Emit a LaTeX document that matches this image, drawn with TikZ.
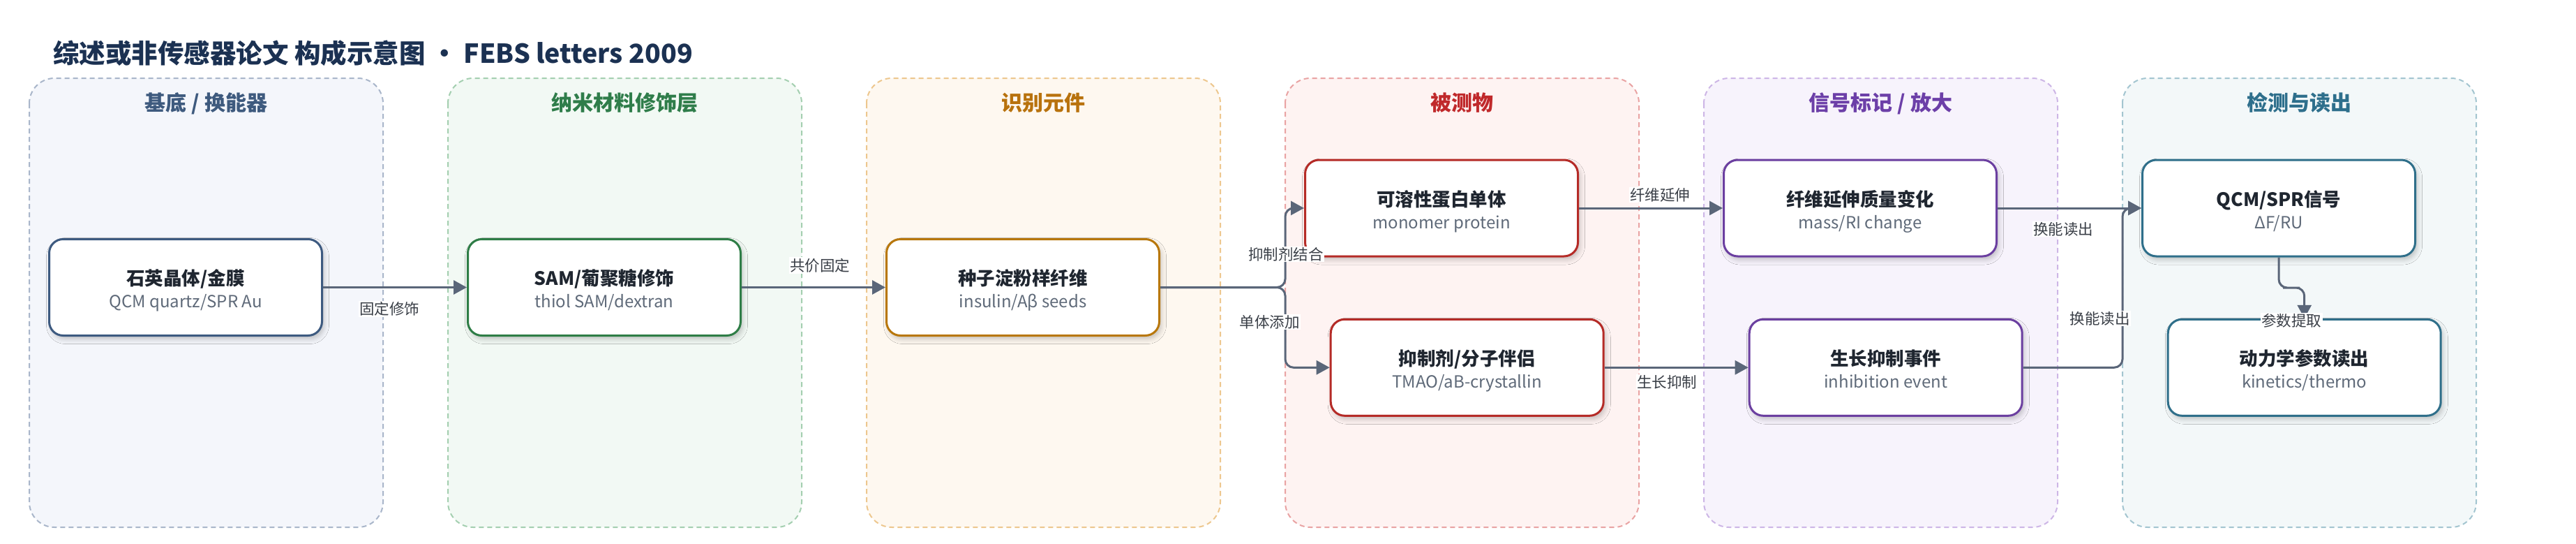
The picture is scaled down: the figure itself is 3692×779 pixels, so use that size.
\documentclass[tikz,border=0pt]{standalone}
\usepackage{fontspec}
\setmainfont{Noto Sans CJK SC}
\usetikzlibrary{arrows.meta,shadows.blur}

\definecolor{titlec}{HTML}{1B3152}
\definecolor{boxtitle}{HTML}{1F2630}
\definecolor{boxsub}{HTML}{5F6A79}
\definecolor{lblc}{HTML}{3A3F47}
\definecolor{edgec}{HTML}{5A6679}
% lanes: fill / border / header / node border
\definecolor{fA}{HTML}{F4F6FB}\definecolor{bA}{HTML}{A9B6CA}\definecolor{hA}{HTML}{3E5A7E}\definecolor{nA}{HTML}{3D5A80}
\definecolor{fB}{HTML}{F2F9F4}\definecolor{bB}{HTML}{A4CFB0}\definecolor{hB}{HTML}{2F7D4A}\definecolor{nB}{HTML}{2E7D46}
\definecolor{fC}{HTML}{FEF8F0}\definecolor{bC}{HTML}{EDC78E}\definecolor{hC}{HTML}{B8720D}\definecolor{nC}{HTML}{B8770B}
\definecolor{fD}{HTML}{FEF3F2}\definecolor{bD}{HTML}{E9A3A3}\definecolor{hD}{HTML}{C0292B}\definecolor{nD}{HTML}{B52B27}
\definecolor{fE}{HTML}{F7F3FC}\definecolor{bE}{HTML}{CDB6E6}\definecolor{hE}{HTML}{6C3FA8}\definecolor{nE}{HTML}{6B3FA0}
\definecolor{fF}{HTML}{F3F8F9}\definecolor{bF}{HTML}{A3C5D0}\definecolor{hF}{HTML}{2E6F8C}\definecolor{nF}{HTML}{2F6F8A}

\newcommand\mkbox[6]{%
  \node[box=#2] (#1) at (#3,#4) {};
  \node[ttl, anchor=base] (#1t) at ([yshift=3pt]#1.center) {#5};
  \node[sub, anchor=base] (#1s) at ([yshift=-29pt]#1.center) {#6};
}

\begin{document}
\begin{tikzpicture}[x=1pt,y=-1pt,
  lanebox/.style={line width=2pt, dash pattern=on 7pt off 5pt, rounded corners=36pt},
  hdr/.style={font=\bfseries\fontsize{30}{34}\selectfont, inner sep=0pt},
  box/.style={draw=#1, line width=3pt, fill=white, rounded corners=20pt,
    minimum width=391pt, minimum height=138pt, inner sep=0pt,
    blur shadow={shadow xshift=3pt, shadow yshift=-5pt, shadow blur radius=7pt, shadow opacity=22}},
  ttl/.style={font=\bfseries\fontsize{26.5}{30}\selectfont, text=boxtitle, inner sep=0pt},
  sub/.style={font=\fontsize{24}{28}\selectfont, text=boxsub, inner sep=0pt},
  lbl/.style={font=\fontsize{21.5}{24}\selectfont, text=lblc, fill=white, inner sep=1.5pt},
  edge/.style={draw=edgec, line width=3pt, rounded corners=12pt, -{Triangle[length=19pt,width=20pt]}},
]
\useasboundingbox (0,0) rectangle (3692,779);

% title
\node[anchor=base west, inner sep=0pt, text=titlec, font=\bfseries\fontsize{37.5}{42}\selectfont]
  (title) at (76,90.6) {综述或非传感器论文 构成示意图 • FEBS letters 2009};

% lanes
\path[lanebox, fill=fA, draw=bA] (42,112) rectangle (549,755);
\path[lanebox, fill=fB, draw=bB] (642,112) rectangle (1149,755);
\path[lanebox, fill=fC, draw=bC] (1242,112) rectangle (1749,755);
\path[lanebox, fill=fD, draw=bD] (1842,112) rectangle (2349,755);
\path[lanebox, fill=fE, draw=bE] (2442,112) rectangle (2949,755);
\path[lanebox, fill=fF, draw=bF] (3042,112) rectangle (3549,755);

\node[hdr, text=hA, anchor=base] (hA) at (295.5,158) {基底 / 换能器};
\node[hdr, text=hB, anchor=base] (hB) at (895.5,158) {纳米材料修饰层};
\node[hdr, text=hC, anchor=base] (hC) at (1495.5,158) {识别元件};
\node[hdr, text=hD, anchor=base] (hD) at (2095.5,158) {被测物};
\node[hdr, text=hE, anchor=base] (hE) at (2695.5,158) {信号标记 / 放大};
\node[hdr, text=hF, anchor=base] (hF) at (3295.5,158) {检测与读出};

% boxes
\mkbox{n1}{nA}{266}{411.5}{石英晶体/金膜}{QCM quartz/SPR Au}
\mkbox{n2}{nB}{866}{411.5}{SAM/葡聚糖修饰}{thiol SAM/dextran}
\mkbox{n3}{nC}{1466}{411.5}{种子淀粉样纤维}{insulin/Aβ seeds}
\mkbox{n4a}{nD}{2066}{298}{可溶性蛋白单体}{monomer protein}
\mkbox{n4b}{nD}{2102.7}{526.3}{抑制剂/分子伴侣}{TMAO/aB-crystallin}
\mkbox{n5a}{nE}{2666}{298}{纤维延伸质量变化}{mass/RI change}
\mkbox{n5b}{nE}{2702.7}{526.3}{生长抑制事件}{inhibition event}
\mkbox{n6a}{nF}{3266}{298}{QCM/SPR信号}{ΔF/RU}
\mkbox{n6b}{nF}{3302.7}{526.3}{动力学参数读出}{kinetics/thermo}

% connector helper points
\coordinate (f1) at (1842,411.5);
\coordinate (f2) at (3042,526.3);
\coordinate (j1) at (3284,412);

% connectors
\draw[edge] (n1.east) -- (n2.west);
\draw[edge] (n2.east) -- (n3.west);
\draw[edge] (n3.east) -- (f1) |- (n4a.west);
\draw[edge] (n3.east) -- (f1) |- (n4b.west);
\draw[edge] (n4a.east) -- (n5a.west);
\draw[edge] (n4b.east) -- (n5b.west);
\draw[edge] (n5a.east) -- (n6a.west);
\draw[edge] (n5b.east) -- (f2) |- (n6a.west);
\draw[edge] (n6a.south) |- (j1) -| (n6b.north);

% labels
\node[lbl] (l1) at (558,442.5) {固定修饰};
\node[lbl] (l2) at (1175,380) {共价固定};
\node[lbl] (l3) at (1843,364) {抑制剂结合};
\node[lbl] (l4) at (1819.5,461) {单体添加};
\node[lbl] (l5) at (2379,279) {纤维延伸};
\node[lbl] (l6) at (2389,547) {生长抑制};
\node[lbl] (l7) at (2957,328) {换能读出};
\node[lbl] (l8) at (3009.5,456) {换能读出};
\node[lbl] (l9) at (3284,459) {参数提取};
\end{tikzpicture}
\end{document}
